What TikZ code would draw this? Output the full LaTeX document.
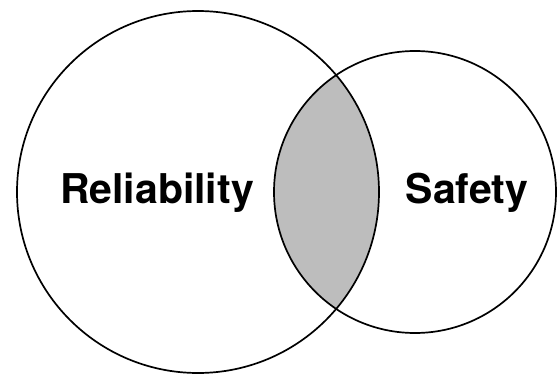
\documentclass[tikz,border=0pt]{standalone}
\usepackage{fontspec}
\setmainfont{TeX Gyre Heros}
\usepackage{xcolor}
\usepackage{tikz}
\usetikzlibrary{positioning, calc}
\definecolor{lensgray}{HTML}{BDBDBD}

\begin{document}
\begin{tikzpicture}[
    x=1pt, y=-1pt,
    ring/.style={draw, line width=1.7pt},
    label/.style={font=\fontsize{41}{45}\selectfont\bfseries, inner sep=0pt, anchor=base},
]
    \useasboundingbox (0,0) rectangle (557,375);

    \coordinate (rel) at (198,192);
    \coordinate (saf) at (415,192);

    % shaded overlap
    \begin{scope}
        \clip (rel) circle [radius=181pt];
        \fill[lensgray] (saf) circle [radius=141pt];
    \end{scope}

    \draw[ring] (rel) circle [radius=181pt];
    \draw[ring] (saf) circle [radius=141pt];

    \node[label] (r) at (157,203) {Reliability};
    \node[label] (s) at (467,203) {Safety};
\end{tikzpicture}
\end{document}
